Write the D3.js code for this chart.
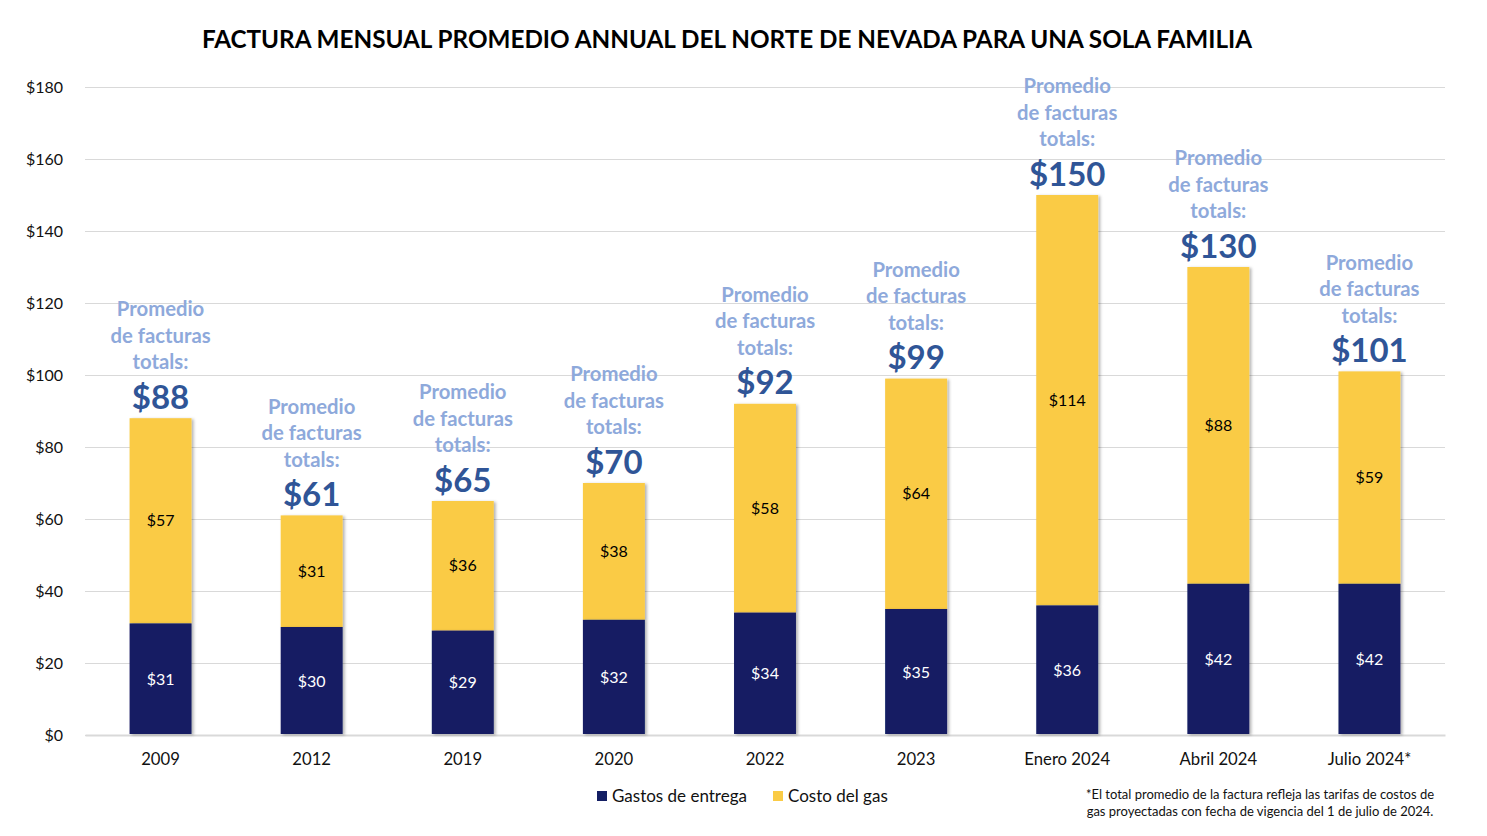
<!DOCTYPE html>
<html><head><meta charset="utf-8">
<script src="https://cdn.jsdelivr.net/npm/d3@7"></script>
<style>
html,body{margin:0;padding:0;background:#fff;}
text{font-family:Lato,"Open Sans",sans-serif;}
</style></head>
<body>
<svg id="chart" width="1487" height="836"></svg>
<script>
const categories = ["2009","2012","2019","2020","2022","2023","Enero 2024","Abril 2024","Julio 2024*"];
const deliveryValues = [31,30,29,32,34,35,36,42,42];
const gasValues = [57,31,36,38,58,64,114,88,59];
const totalValues = [88,61,65,70,92,99,150,130,101];
const yTicks = [0,20,40,60,80,100,120,140,160,180];
const seriesNames = ["Gastos de entrega","Costo del gas"];
const titleText = "FACTURA MENSUAL PROMEDIO ANNUAL DEL NORTE DE NEVADA PARA UNA SOLA FAMILIA";
const annotLines = ["Promedio","de facturas","totals:"];
const footnoteLines = ["*El total promedio de la factura refleja las tarifas de costos de","gas proyectadas con fecha de vigencia del 1 de julio de 2024."];

const navy = "#131E63", yellow = "#FACB45", promColor = "#8EA9DB", totColor = "#2F5597";
const svg = d3.select("#chart");
const pLeft = 85, pRight = 1445, pTop = 87, pBottom = 735;

const defs = svg.append("defs");
const f = defs.append("filter").attr("id","sh").attr("x","-20%").attr("y","-5%").attr("width","140%").attr("height","110%");
f.append("feDropShadow").attr("dx",2).attr("dy",1).attr("stdDeviation",1.8).attr("flood-color","#000").attr("flood-opacity",0.3);

const x = d3.scaleBand().domain(categories).range([pLeft,pRight]).paddingInner(0.59).paddingOuter(0.295);
const y = d3.scaleLinear().domain([0,180]).range([pBottom,pTop]);

// title
const title = svg.append("text").attr("x",727).attr("y",48).attr("text-anchor","middle")
  .attr("font-weight","bold").attr("font-size",24).attr("fill","#000").text(titleText);
const tw = title.node().getComputedTextLength();
title.attr("font-size", 24*1051/tw);

// grid
const yAxis = d3.axisLeft(y).tickValues(yTicks).tickFormat(d=>"$"+d).tickSize(-(pRight-pLeft)).tickPadding(22);
const ga = svg.append("g").attr("transform",`translate(${pLeft},0)`).call(yAxis);
ga.select(".domain").remove();
ga.selectAll(".tick line").attr("stroke","#d9d9d9").attr("stroke-width",1);
ga.selectAll(".tick text").attr("font-size",16).attr("fill","#111").attr("font-family","Lato,sans-serif").attr("dy","0.35em");

// x axis
const xAxis = d3.axisBottom(x).tickSize(0).tickPadding(18);
const gx = svg.append("g").attr("transform",`translate(0,${pBottom})`).call(xAxis);
gx.select(".domain").attr("stroke","#d9d9d9").attr("stroke-width",2);
gx.selectAll(".tick text").attr("font-size",16.7).attr("fill","#111").attr("font-family","Lato,sans-serif");

const data = categories.map((c,i)=>({c, d:deliveryValues[i], g:gasValues[i], t:totalValues[i]}));

// bars
const bars = svg.append("g");
bars.selectAll(".gas").data(data).join("rect")
  .attr("x",d=>x(d.c)).attr("width",x.bandwidth())
  .attr("y",d=>y(d.d+d.g)).attr("height",d=>y(d.d)-y(d.d+d.g))
  .attr("fill",yellow).attr("filter","url(#sh)");
bars.selectAll(".del").data(data).join("rect")
  .attr("x",d=>x(d.c)).attr("width",x.bandwidth())
  .attr("y",d=>y(d.d)).attr("height",d=>y(0)-y(d.d)-1)
  .attr("fill",navy).attr("filter","url(#sh)");

// segment labels
const lab = svg.append("g").attr("text-anchor","middle").attr("font-size",16);
lab.selectAll(".dl").data(data).join("text")
  .attr("x",d=>x(d.c)+x.bandwidth()/2).attr("y",d=>(y(0)+y(d.d))/2).attr("dy","0.35em")
  .attr("fill","#fff").text(d=>"$"+d.d);
lab.selectAll(".gl").data(data).join("text")
  .attr("x",d=>x(d.c)+x.bandwidth()/2).attr("y",d=>(y(d.d)+y(d.d+d.g))/2).attr("dy","0.35em")
  .attr("fill","#000").text(d=>"$"+d.g);

// totals
const ann = svg.append("g").attr("text-anchor","middle").attr("font-weight","bold");
ann.selectAll(".tot").data(data).join("text")
  .attr("x",d=>x(d.c)+x.bandwidth()/2).attr("y",d=>y(d.t)-21).attr("dy","0.35em")
  .attr("font-size",33).attr("fill",totColor).text(d=>"$"+d.t);
annotLines.forEach((ln,k)=>{
  ann.selectAll(".p"+k).data(data).join("text")
    .attr("x",d=>x(d.c)+x.bandwidth()/2).attr("y",d=>y(d.t)-56-26.5*(2-k)).attr("dy","0.35em")
    .attr("font-size",20.3).attr("fill",promColor).text(ln);
});

// legend
const leg = svg.append("g");
[[navy,597,seriesNames[0]],[yellow,773,seriesNames[1]]].forEach(([c,lx,t])=>{
  leg.append("rect").attr("x",lx).attr("y",791).attr("width",10).attr("height",10).attr("fill",c);
  leg.append("text").attr("x",lx+15).attr("y",796).attr("dy","0.35em").attr("font-size",17).attr("fill","#111").text(t);
});

// footnote
const fn = svg.append("g").attr("text-anchor","middle").attr("font-size",13).attr("fill","#111");
footnoteLines.forEach((ln,i)=>{
  fn.append("text").attr("x",1260).attr("y",794+17*i).attr("dy","0.35em").text(ln);
});
</script>
</body></html>
